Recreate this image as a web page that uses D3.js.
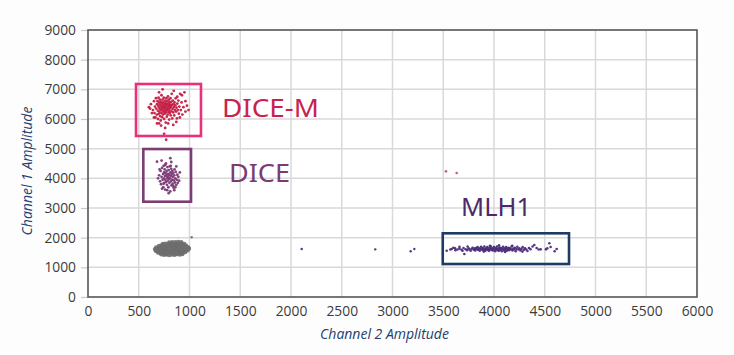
<!DOCTYPE html>
<html><head><meta charset="utf-8">
<script src="https://cdn.jsdelivr.net/npm/d3@7"></script>
<style>
html,body{margin:0;padding:0;background:#fdfdfd;}
svg{display:block;}
</style></head>
<body>
<svg id="chart" width="734" height="355"></svg>
<script>
// ---- data (Channel 2 amplitude, Channel 1 amplitude) ----
const xTicks = [0,500,1000,1500,2000,2500,3000,3500,4000,4500,5000,5500,6000];
const yTicks = [0,1000,2000,3000,4000,5000,6000,7000,8000,9000];

const diceMPoints = [[620,6500],[640,6300],[650,6600],[655,6200],[660,6420],[665,6050],[670,6700],[672,6350],[678,6150],[680,6500],[685,6600],[688,6280],[690,6000],[692,6450],[695,6720],[698,6180],[700,6380],[702,6550],[705,6250],[708,6650],[710,6100],[712,6480],[714,6320],[716,5950],[718,6580],[720,6420],[722,6200],[724,6800],[726,6350],[728,6520],[730,6060],[732,6280],[734,6650],[736,6450],[738,6150],[740,6380],[742,6560],[744,6240],[746,6720],[748,6420],[750,6000],[752,6320],[754,6500],[756,6180],[758,6620],[760,6400],[762,6280],[764,6540],[766,5880],[768,6460],[770,6220],[772,6700],[774,6350],[776,6080],[778,6500],[780,6300],[782,6600],[784,6420],[786,6150],[788,6760],[790,6360],[792,6520],[794,6240],[796,6650],[798,6440],[800,5980],[802,6300],[804,6560],[806,6200],[808,6480],[810,6380],[812,6700],[815,6120],[818,6420],[820,6580],[822,6260],[825,6850],[828,6480],[830,6020],[833,6340],[836,6620],[840,6220],[843,6500],[846,6400],[850,6120],[853,6560],[856,6300],[860,6460],[864,6700],[868,6250],[872,6380],[876,6020],[880,6520],[885,6300],[890,6620],[895,6180],[900,6420],[908,6850],[915,6300],[922,6560],[930,6150],[940,6400],[950,6900],[960,6250],[975,6450],[990,6300],[700,6900],[735,7000],[680,5850],[720,5780],[790,5850],[760,5700],[840,5800],[870,5900],[650,6050],[630,6200],[612,6350],[600,6400],[845,6950],[880,6750],[905,6050],[770,5300],[750,5500],[925,6800],[960,6600],[700,5850]];

const dicePoints = [[680,4560],[811,4680],[700,4100],[710,3900],[715,4250],[720,3800],[725,4050],[730,4350],[735,3950],[740,4150],[742,3700],[745,4420],[748,4000],[750,4200],[752,3850],[755,4300],[758,4080],[760,3620],[762,3950],[765,4180],[768,4500],[770,3880],[772,4100],[775,4250],[778,3780],[780,4020],[782,4380],[785,3920],[788,4150],[790,4050],[792,3700],[795,4280],[798,3980],[800,4120],[802,3850],[805,4400],[808,4000],[810,3560],[812,4200],[815,3900],[818,4080],[820,4320],[822,3760],[825,4150],[828,3950],[830,4250],[833,3820],[836,4050],[840,4180],[843,3680],[846,3930],[850,4100],[853,4300],[856,3860],[860,4000],[865,4220],[870,3780],[875,3950],[880,4120],[885,3850],[890,4050],[898,3920],[905,4200],[760,4450],[730,3650],[820,4550],[850,3600],[690,4000],[705,4300],[870,4400],[795,3500],[840,3750],[780,3600],[815,4420],[745,3820],[860,3700],[725,4600]];

const negativePoints = [[722,1440],[748,1420],[775,1435],[800,1415],[826,1430],[852,1420],[878,1445],[905,1430],[930,1450],
[690,1500],[712,1485],[736,1495],[760,1480],[785,1500],[810,1488],[834,1496],[858,1482],[884,1498],[908,1490],[934,1502],[958,1515],
[668,1560],[690,1545],[714,1555],[738,1540],[762,1560],[786,1548],[810,1556],[835,1542],[860,1560],[884,1550],[908,1558],[932,1545],[956,1562],[980,1570],
[660,1615],[682,1605],[706,1620],[730,1600],[754,1612],[778,1605],[802,1618],[826,1600],[850,1615],[874,1608],[898,1620],[922,1604],[946,1616],[970,1610],[994,1625],
[672,1670],[696,1660],[720,1675],[744,1662],[768,1678],[792,1665],[816,1672],[840,1660],[864,1676],[888,1664],[912,1674],[936,1662],[960,1676],[985,1668],
[700,1725],[724,1735],[748,1722],[772,1738],[796,1728],[820,1740],[844,1726],[868,1736],[892,1724],[916,1738],[940,1728],[965,1740],
[740,1785],[766,1795],[792,1788],[818,1800],[844,1790],[870,1802],[896,1792],[922,1798],[948,1790],
[800,1840],[830,1850],[860,1845],[890,1855],[920,1848],
[680,1580],[700,1640],[725,1580],[748,1700],[770,1520],[795,1640],[820,1580],[845,1700],[870,1530],[895,1650],[918,1580],[942,1700],[965,1590],[990,1660],[735,1760],[830,1770],[910,1760],[760,1460],[860,1460]];
const negativeStray = [[1021,2012]];

const mlh1Points = [[3534,1560],[3583,1618],[3616,1641],[3640,1600],[3660,1630],[3680,1590],[3700,1650],[3708,1449],[3720,1610],[3735,1580],[3750,1640],[3760,1600],[3770,1560],[3780,1625],[3790,1660],[3800,1595],[3808,1630],[3815,1570],[3822,1650],[3830,1610],[3838,1680],[3845,1590],[3852,1640],[3860,1560],[3866,1620],[3872,1690],[3880,1600],[3886,1650],[3892,1575],[3898,1630],[3905,1700],[3910,1600],[3916,1560],[3922,1645],[3928,1610],[3934,1680],[3940,1585],[3946,1630],[3952,1555],[3958,1660],[3964,1610],[3970,1700],[3976,1590],[3982,1640],[3988,1565],[3994,1620],[4000,1680],[4006,1600],[4012,1545],[4018,1650],[4024,1610],[4030,1700],[4036,1580],[4042,1635],[4048,1560],[4054,1670],[4060,1610],[4066,1590],[4072,1650],[4078,1540],[4084,1620],[4090,1690],[4096,1600],[4102,1570],[4108,1645],[4114,1610],[4120,1680],[4126,1560],[4132,1630],[4138,1600],[4144,1660],[4150,1580],[4158,1640],[4166,1610],[4174,1700],[4182,1570],[4190,1630],[4198,1600],[4206,1660],[4214,1545],[4222,1620],[4230,1690],[4240,1600],[4250,1640],[4260,1570],[4270,1620],[4282,1680],[4294,1590],[4306,1640],[4318,1600],[4330,1550],[4345,1650],[4360,1610],[4380,1700],[4397,1753],[4420,1651],[4440,1600],[4460,1607],[4512,1607],[4525,1641],[4545,1810],[4558,1685],[4597,1540],[4617,1618],[3660,1690],[3690,1560],[3740,1700],[3900,1530],[3960,1730],[4050,1740],[4110,1520],[4180,1730],[4280,1530],[3620,1580],[3570,1600],[3600,1660]];

const strayPoints = [[2105,1618],[2830,1607],[3179,1540],[3215,1618]];
const strayDoublePoints = [[3527,4236],[3632,4179]];

// gates (data units)
const gateNames = ["DICE-M","DICE","MLH1"];
const gateX = [[473,1113],[545,1015],[3495,4739]];
const gateY = [[5427,7180],[3212,4988],[1112,2147]];
const labelPos = [[1320,6084],[1389,3876],[3675,2730]];

// ---- drawing ----
const svg = d3.select("#chart");
const m = {left:88, right:697, top:30, bottom:297};
const x = d3.scaleLinear().domain([0,6000]).range([m.left, m.right]);
const y = d3.scaleLinear().domain([0,9000]).range([m.bottom, m.top]);

svg.append("rect").attr("x",0).attr("y",0).attr("width",734).attr("height",355).attr("fill","#fdfdfd");
svg.append("rect").attr("x",m.left).attr("y",m.top).attr("width",m.right-m.left).attr("height",m.bottom-m.top).attr("fill","#ffffff");

// grid
const grid = svg.append("g");
grid.selectAll("line.v").data(xTicks.slice(1,-1)).join("line")
  .attr("x1",d=>x(d)).attr("x2",d=>x(d)).attr("y1",m.top).attr("y2",m.bottom)
  .attr("stroke","#d9d9d9").attr("stroke-width",1.5);
grid.selectAll("line.h").data(yTicks.slice(1,-1)).join("line")
  .attr("y1",d=>y(d)).attr("y2",d=>y(d)).attr("x1",m.left).attr("x2",m.right)
  .attr("stroke","#d9d9d9").attr("stroke-width",1.5);

// axes
const font = "'Open Sans','Noto Sans',sans-serif";
const yAxis = svg.append("g").attr("transform",`translate(${m.left},0)`)
  .call(d3.axisLeft(y).tickValues(yTicks).tickSize(7).tickPadding(5).tickFormat(d3.format("d")));
const xAxis = svg.append("g").attr("transform",`translate(0,${m.bottom})`)
  .call(d3.axisBottom(x).tickValues(xTicks).tickSize(0).tickPadding(9).tickFormat(d3.format("d")));
[yAxis,xAxis].forEach(g=>{
  g.select(".domain").remove();
  g.selectAll(".tick line").attr("stroke","#c8c8c8").attr("stroke-width",1.2);
  g.selectAll(".tick text").attr("fill","#3b3b3b").style("font-family",font).style("font-size","13.8px");
});

// frame
svg.append("rect").attr("x",m.left).attr("y",m.top).attr("width",m.right-m.left).attr("height",m.bottom-m.top)
  .attr("fill","none").attr("stroke","#555555").attr("stroke-width",1.6);

// titles
svg.append("text").attr("x",(m.left+m.right)/2-8).attr("y",339).attr("text-anchor","middle")
  .attr("fill","#23406e").style("font-family",font).style("font-style","italic").style("font-size","14px")
  .text("Channel 2 Amplitude");
svg.append("text").attr("transform","translate(32,171) rotate(-90)").attr("text-anchor","middle")
  .attr("fill","#23406e").style("font-family",font).style("font-style","italic").style("font-size","14px")
  .text("Channel 1 Amplitude");

// points
function dots(data, color, r, op){
  svg.append("g").selectAll("circle").data(data).join("circle")
    .attr("cx",d=>x(d[0])).attr("cy",d=>y(d[1])).attr("r",r)
    .attr("fill",color).attr("fill-opacity",op);
}
dots(negativePoints,"#6e6e6e",2.2,0.9);
dots(negativeStray,"#6e6e6e",1.3,0.9);
dots(diceMPoints,"#c41e45",1.4,0.95);
dots(dicePoints,"#7a3a76",1.4,0.95);
dots(mlh1Points,"#4b2c7a",1.3,0.95);
dots(strayPoints,"#4b2c7a",1.2,0.95);
dots(strayDoublePoints,"#d0506a",1.3,0.95);

// gates
const gateColors = ["#e8317a","#7b3d73","#1e3b66"];
const labelColors = ["#c8234f","#7b3a72","#4a2a6a"];
const labelWidths = [97,61,70];
gateNames.forEach((name,i)=>{
  svg.append("rect")
    .attr("x",x(gateX[i][0])).attr("y",y(gateY[i][1]))
    .attr("width",x(gateX[i][1])-x(gateX[i][0])).attr("height",y(gateY[i][0])-y(gateY[i][1]))
    .attr("fill","none").attr("stroke",gateColors[i]).attr("stroke-width",2.6);
  svg.append("text").attr("x",x(labelPos[i][0])).attr("y",y(labelPos[i][1]))
    .attr("fill",labelColors[i]).style("font-family","'Noto Sans',sans-serif").style("font-weight","400")
    .style("font-size","25px").attr("textLength",labelWidths[i]).attr("lengthAdjust","spacingAndGlyphs")
    .text(name);
});
</script>
</body></html>
